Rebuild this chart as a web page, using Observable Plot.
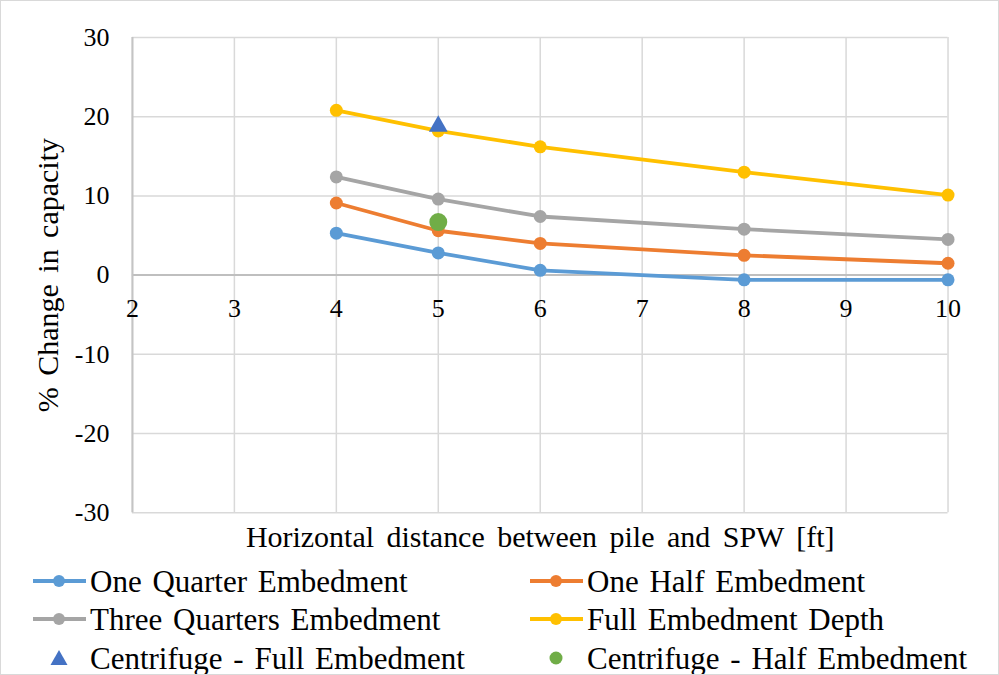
<!DOCTYPE html>
<html>
<head>
<meta charset="utf-8">
<script src="https://cdn.jsdelivr.net/npm/d3@7"></script>
<script src="https://cdn.jsdelivr.net/npm/@observablehq/plot@0.6"></script>
<style>
  html, body { margin: 0; padding: 0; background: #fff; }
  #chart { position: relative; width: 999px; height: 675px; box-sizing: border-box; border: 1.5px solid #d9d9d9; overflow: hidden; }
  #plot { position: absolute; left: -1.5px; top: -1.5px; }
  .leg { position: absolute; display: flex; align-items: center; font-size: 31px; word-spacing: 3px; color: #000; white-space: nowrap; line-height: 1; }
  .leg svg { margin-right: 3px; }
</style>
</head>
<body>
<div id="chart"><div id="plot"></div></div>
<script>
// ---- data ----
const distances = [4, 5, 6, 8, 10];
const seriesNames = ["One Quarter Embedment", "One Half Embedment", "Three Quarters Embedment", "Full Embedment Depth"];
const oneQuarter = [5.3, 2.8, 0.6, -0.6, -0.6];
const oneHalf = [9.1, 5.6, 4.0, 2.5, 1.5];
const threeQuarters = [12.4, 9.6, 7.4, 5.8, 4.5];
const fullDepth = [20.8, 18.2, 16.2, 13.0, 10.1];
const centrifugeFullName = "Centrifuge - Full Embedment";
const centrifugeFullX = [5];
const centrifugeFullY = [18.8];
const centrifugeHalfName = "Centrifuge - Half Embedment";
const centrifugeHalfX = [5];
const centrifugeHalfY = [6.7];
const xTicks = [2, 3, 4, 5, 6, 7, 8, 9, 10];
const yTicks = [-30, -20, -10, 0, 10, 20, 30];
const xTitle = "Horizontal distance between pile and SPW [ft]";
const yTitle = "% Change in capacity";

const colors = ["#5B9BD5", "#ED7D31", "#A5A5A5", "#FFC000"];
const triColor = "#4472C4";
const greenColor = "#70AD47";

const valuesBySeries = [oneQuarter, oneHalf, threeQuarters, fullDepth];
const rows = [];
seriesNames.forEach((s, i) => distances.forEach((x, j) => rows.push({series: s, x, y: valuesBySeries[i][j]})));
const cFull = centrifugeFullX.map((x, i) => ({x, y: centrifugeFullY[i]}));
const cHalf = centrifugeHalfX.map((x, i) => ({x, y: centrifugeHalfY[i]}));

const FONT = "'Liberation Serif'";

const chart = Plot.plot({
  width: 999,
  height: 560,
  marginTop: 37,
  marginBottom: 47.5,
  marginLeft: 132,
  marginRight: 51,
  style: {background: "transparent", color: "#000"},
  x: {domain: [2, 10], axis: null},
  y: {domain: [-30, 30], axis: null},
  color: {domain: seriesNames, range: colors},
  marks: [
    Plot.gridY(yTicks, {stroke: "#d9d9d9", strokeOpacity: 1, strokeWidth: 1.5}),
    Plot.gridX(xTicks, {stroke: "#d9d9d9", strokeOpacity: 1, strokeWidth: 1.5}),
    Plot.ruleY([0], {stroke: "#bfbfbf", strokeWidth: 2}),
    Plot.ruleX([2], {stroke: "#c4c4c4", strokeWidth: 2}),
    Plot.axisY(yTicks, {tickSize: 0, tickPadding: 23, fontSize: 26, label: null, tickFormat: d => String(d)}),
    Plot.text(xTicks, {x: d => d, y: 0, dy: 34, text: d => String(d), fontSize: 26, fill: "#000"}),
    Plot.text([yTitle], {frameAnchor: "left", textAnchor: "middle", dx: -84, rotate: -90, fontSize: 30, fill: "#000"}),
    Plot.text([xTitle], {frameAnchor: "bottom", textAnchor: "middle", dy: 34, fontSize: 30, fill: "#000"}),
    Plot.line(rows, {x: "x", y: "y", z: "series", stroke: "series", strokeWidth: 3.8}),
    Plot.dot(rows, {x: "x", y: "y", fill: "series", r: 6.5}),
    Plot.dot(cFull, {x: "x", y: "y", symbol: "triangle", fill: triColor, r: 7}),
    Plot.dot(cHalf, {x: "x", y: "y", fill: greenColor, r: 9})
  ]
});
chart.querySelectorAll("text").forEach(t => {
  if (t.textContent === xTitle) t.style.wordSpacing = "5px";
  if (t.textContent === yTitle) t.style.wordSpacing = "4px";
});
document.getElementById("plot").appendChild(chart);

// ---- legend ----
const legendItems = [
  {name: seriesNames[0], type: "line", color: colors[0], x: 30, y: 580},
  {name: seriesNames[1], type: "line", color: colors[1], x: 527, y: 580},
  {name: seriesNames[2], type: "line", color: colors[2], x: 30, y: 618},
  {name: seriesNames[3], type: "line", color: colors[3], x: 527, y: 618},
  {name: centrifugeFullName, type: "tri", color: triColor, x: 30, y: 657},
  {name: centrifugeHalfName, type: "dot", color: greenColor, x: 527, y: 657}
];
const chartDiv = document.getElementById("chart");
legendItems.forEach(it => {
  const d = document.createElement("div");
  d.className = "leg";
  d.style.left = it.x + "px";
  d.style.top = (it.y - 18) + "px";
  d.style.height = "36px";
  let sw = "";
  if (it.type === "line") {
    sw = `<svg width="56" height="20"><line x1="2" y1="10" x2="55" y2="10" stroke="${it.color}" stroke-width="3.8"/><circle cx="28" cy="10" r="6" fill="${it.color}"/></svg>`;
  } else if (it.type === "tri") {
    sw = `<svg width="56" height="20"><path d="M28,2 L36.5,17 L19.5,17 Z" fill="${it.color}"/></svg>`;
  } else {
    sw = `<svg width="56" height="20"><circle cx="28" cy="10" r="6.5" fill="${it.color}"/></svg>`;
  }
  d.innerHTML = sw + `<span>${it.name}</span>`;
  chartDiv.appendChild(d);
});

// force serif font everywhere
document.querySelectorAll("#chart, #chart svg, #chart text, #chart tspan, #chart g, #chart div, #chart span").forEach(el => {
  el.style.setProperty("font-family", FONT, "important");
});
</script>
</body>
</html>
